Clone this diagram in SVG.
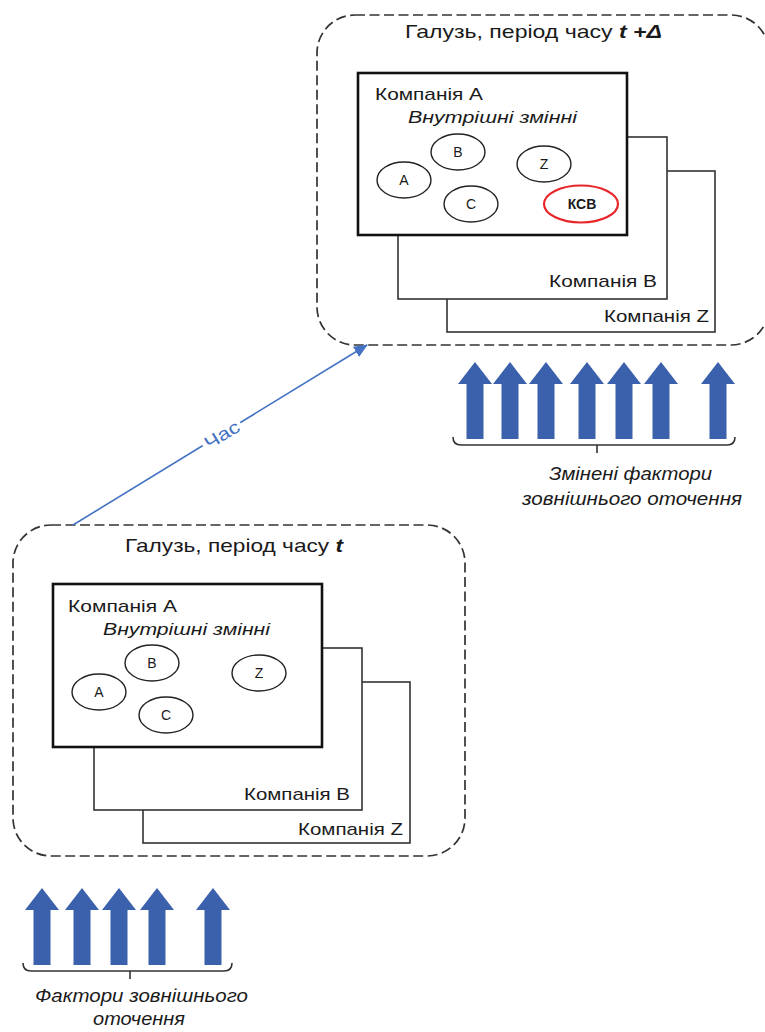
<svg xmlns="http://www.w3.org/2000/svg" width="765" height="1032" viewBox="0 0 765 1032">
<style>
text{font-family:"Liberation Sans","Noto Sans",Arial,sans-serif;fill:#1a1a1a}
.frame{fill:#fff;stroke:#333;stroke-width:1.7;stroke-dasharray:10 4.5}
.comp{fill:#fff;stroke:#333;stroke-width:1.6}
.compA{fill:#fff;stroke:#111;stroke-width:2.6}
.title{font-size:19px}
.cname{font-size:17px}
.vars{font-size:17px;font-style:italic}
.var{fill:#fff;stroke:#222;stroke-width:1.4}
.ksv{fill:#fff;stroke:#e8262a;stroke-width:2.2}
.vl{font-size:14px;text-anchor:middle}
.fac{fill:#3b61ac}
.brace{fill:none;stroke:#333;stroke-width:1.6}
.cap{font-size:18px;font-style:italic}
</style>
<defs>
<path id="up" d="M0,0 L17,22 L8.5,22 L8.5,77 L-8.5,77 L-8.5,22 L-17,22 Z"/>
<marker id="ah" markerWidth="14" markerHeight="12" refX="13" refY="6" orient="auto" markerUnits="userSpaceOnUse" viewBox="0 0 14 12">
<path d="M0,0 L14,6 L0,12 Z" fill="#4472c4"/>
</marker>
</defs>

<!-- Top industry (t + delta) -->
<g id="industry-t-delta">
<rect class="frame" x="317" y="15" width="452" height="330" rx="38" ry="38"/>
<text class="title" x="405" y="38" textLength="257" lengthAdjust="spacingAndGlyphs">Галузь, період часу <tspan font-weight="bold" font-style="italic">t +Δ</tspan></text>
</g>
<g id="top-company-z">
<rect class="comp" x="447" y="171" width="268" height="161"/>
<text class="cname" x="604" y="322" textLength="105" lengthAdjust="spacingAndGlyphs">Компанія Z</text>
</g>
<g id="top-company-b">
<rect class="comp" x="398" y="137" width="269" height="162"/>
<text class="cname" x="549" y="287" textLength="108" lengthAdjust="spacingAndGlyphs">Компанія B</text>
</g>
<g id="top-company-a">
<rect class="compA" x="358" y="73" width="269" height="162"/>
<text class="cname" x="375" y="100" textLength="108" lengthAdjust="spacingAndGlyphs">Компанія A</text>
<text class="vars" x="408" y="123" textLength="169" lengthAdjust="spacingAndGlyphs">Внутрішні змінні</text>
</g>
<g id="top-var-b"><ellipse class="var" cx="458" cy="152" rx="27" ry="18"/><text class="vl" x="458" y="157">B</text></g>
<g id="top-var-a"><ellipse class="var" cx="404" cy="180" rx="27" ry="18"/><text class="vl" x="404" y="185">A</text></g>
<g id="top-var-c"><ellipse class="var" cx="471" cy="204" rx="27" ry="18"/><text class="vl" x="471" y="209">C</text></g>
<g id="top-var-z"><ellipse class="var" cx="544" cy="164" rx="27" ry="18"/><text class="vl" x="544" y="169">Z</text></g>
<g id="top-var-ksv"><ellipse class="ksv" cx="581" cy="204" rx="37" ry="18.5"/><text class="vl" x="582" y="209" font-weight="bold" font-size="15">КСВ</text></g>

<g id="top-factors">
<use href="#up" class="fac" x="475" y="362"/>
<use href="#up" class="fac" x="510" y="362"/>
<use href="#up" class="fac" x="546" y="362"/>
<use href="#up" class="fac" x="587" y="362"/>
<use href="#up" class="fac" x="624" y="362"/>
<use href="#up" class="fac" x="661" y="362"/>
<use href="#up" class="fac" x="718" y="362"/>
<path class="brace" d="M453,437 Q453,445 461,445 L727,445 Q735,445 735,437 M597,445 L597,453"/>
<text class="cap" x="549" y="480" textLength="163" lengthAdjust="spacingAndGlyphs">Змінені фактори</text>
<text class="cap" x="522" y="505" textLength="220" lengthAdjust="spacingAndGlyphs">зовнішнього оточення</text>
</g>

<!-- Bottom industry (t) -->
<g id="industry-t">
<rect class="frame" x="13" y="525" width="452" height="331" rx="38" ry="38"/>
<text class="title" x="125" y="552" textLength="218" lengthAdjust="spacingAndGlyphs">Галузь, період часу <tspan font-weight="bold" font-style="italic">t</tspan></text>
</g>
<g id="bottom-company-z">
<rect class="comp" x="143" y="682" width="267" height="161"/>
<text class="cname" x="298" y="835" textLength="105" lengthAdjust="spacingAndGlyphs">Компанія Z</text>
</g>
<g id="bottom-company-b">
<rect class="comp" x="94" y="648" width="268" height="162"/>
<text class="cname" x="244" y="800" textLength="106" lengthAdjust="spacingAndGlyphs">Компанія B</text>
</g>
<g id="bottom-company-a">
<rect class="compA" x="53" y="584" width="269" height="163"/>
<text class="cname" x="68" y="612" textLength="109" lengthAdjust="spacingAndGlyphs">Компанія A</text>
<text class="vars" x="103" y="635" textLength="167" lengthAdjust="spacingAndGlyphs">Внутрішні змінні</text>
</g>
<g id="bottom-var-b"><ellipse class="var" cx="152" cy="663" rx="27" ry="18"/><text class="vl" x="152" y="668">B</text></g>
<g id="bottom-var-a"><ellipse class="var" cx="99" cy="692" rx="27" ry="18"/><text class="vl" x="99" y="697">A</text></g>
<g id="bottom-var-c"><ellipse class="var" cx="166" cy="715" rx="27" ry="18"/><text class="vl" x="166" y="720">C</text></g>
<g id="bottom-var-z"><ellipse class="var" cx="259" cy="673" rx="27" ry="18"/><text class="vl" x="259" y="678">Z</text></g>

<g id="bottom-factors">
<use href="#up" class="fac" x="42" y="888"/>
<use href="#up" class="fac" x="82" y="888"/>
<use href="#up" class="fac" x="119" y="888"/>
<use href="#up" class="fac" x="157" y="888"/>
<use href="#up" class="fac" x="213" y="888"/>
<path class="brace" d="M23,963 Q23,971 31,971 L224,971 Q232,971 232,963 M130,971 L130,979"/>
<text class="cap" x="35" y="1002" textLength="213" lengthAdjust="spacingAndGlyphs">Фактори зовнішнього</text>
<text class="cap" x="93" y="1025" textLength="92" lengthAdjust="spacingAndGlyphs">оточення</text>
</g>

<g id="connectors">
<line x1="73" y1="525" x2="367" y2="345" stroke="#4472c4" stroke-width="1.6" marker-end="url(#ah)"/>
<g transform="translate(222,435) rotate(-31.5)">
<rect x="-22" y="-10" width="44" height="20" fill="#fff"/>
<text x="-19" y="6" font-size="18" textLength="38" lengthAdjust="spacingAndGlyphs" style="fill:#4472c4">Час</text>
</g>
</g>
</svg>
